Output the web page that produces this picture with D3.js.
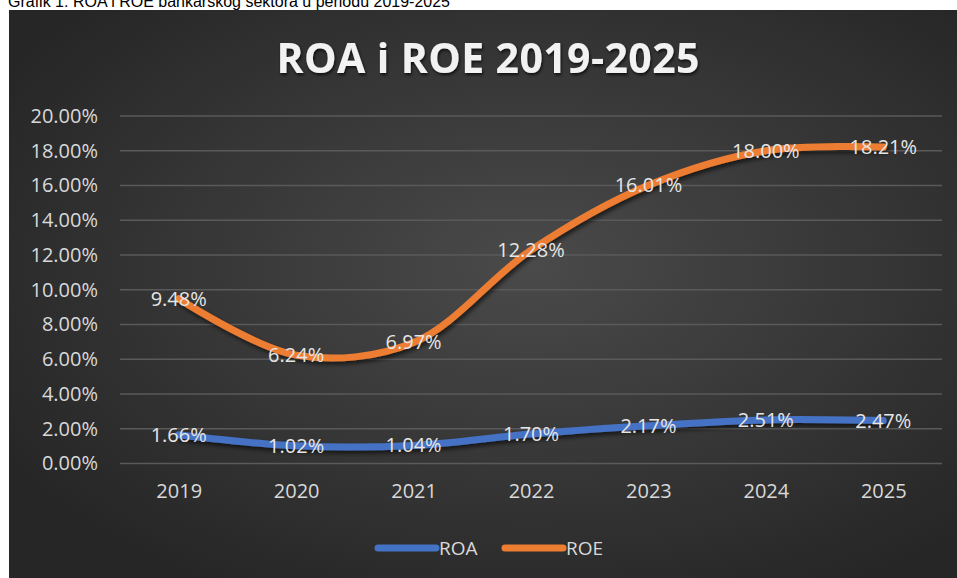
<!DOCTYPE html>
<html>
<head>
<meta charset="utf-8">
<script src="https://cdn.jsdelivr.net/npm/d3@7"></script>
<style>
  body { margin: 0; background: #fff; }
  svg { display: block; }
</style>
</head>
<body>
<div id="chart"></div>
<script>
// chart data
const years = ["2019", "2020", "2021", "2022", "2023", "2024", "2025"];
const roa = [1.66, 1.02, 1.04, 1.70, 2.17, 2.51, 2.47];
const roe = [9.48, 6.24, 6.97, 12.28, 16.01, 18.00, 18.21];
const yTicks = [0, 2, 4, 6, 8, 10, 12, 14, 16, 18, 20];
const seriesNames = ["ROA", "ROE"];
const seriesColors = ["#4472c4", "#ed7d31"];

const W = 957, H = 578;

let svg = d3.select("#chart")
  .append("svg")
  .attr("width", W)
  .attr("height", H);

let defs = svg.append("defs");

// radial background like the excel dark style
let grad = defs.append("radialGradient")
  .attr("id", "bg")
  .attr("cx", "55%").attr("cy", "45%").attr("r", "65%");
grad.append("stop").attr("offset", "0%").attr("stop-color", "#4a4a4a");
grad.append("stop").attr("offset", "100%").attr("stop-color", "#262626");

let shadow = defs.append("filter")
  .attr("id", "shadow")
  .attr("x", "-10%").attr("y", "-20%")
  .attr("width", "120%").attr("height", "160%");
shadow.append("feDropShadow")
  .attr("dx", 2).attr("dy", 3)
  .attr("stdDeviation", 2)
  .attr("flood-color", "#000")
  .attr("flood-opacity", 0.6);

let titleShadow = defs.append("filter").attr("id", "tshadow");
titleShadow.append("feDropShadow")
  .attr("dx", 1).attr("dy", 2)
  .attr("stdDeviation", 1.5)
  .attr("flood-color", "#000")
  .attr("flood-opacity", 0.7);

// caption above the chart (mostly cut off at the top)
svg.append("text")
  .attr("x", 8)
  .attr("y", 7)
  .style("font-family", "Liberation Sans, Arial, sans-serif")
  .style("font-size", "16px")
  .attr("fill", "#000")
  .text("Grafik 1. ROA i ROE bankarskog sektora u periodu 2019-2025");

// chart area
svg.append("rect")
  .attr("x", 9).attr("y", 10)
  .attr("width", W - 9).attr("height", H - 10)
  .attr("fill", "url(#bg)");

// title
let title = svg.append("text")
  .attr("x", 488)
  .attr("y", 73)
  .attr("text-anchor", "middle")
  .attr("fill", "#f2f2f2")
  .attr("filter", "url(#tshadow)")
  .style("font-family", "Open Sans, sans-serif")
  .style("font-weight", "bold")
  .style("font-size", "41px")
  .text("ROA i ROE 2019-2025");
// stretch the letter spacing to the reference width
let tl = title.node().getComputedTextLength();
let nChars = "ROA i ROE 2019-2025".length;
title.style("letter-spacing", ((423 - tl) / (nChars - 1)) + "px")
  .attr("x", 488 + (423 - tl) / (nChars - 1) / 2);

// scales
let xScale = d3.scalePoint()
  .domain(years)
  .range([120, 942])
  .padding(0.5);

let yScale = d3.scaleLinear()
  .domain([0, 20])
  .range([463.5, 116]);

const font = "Open Sans, sans-serif";
const textColor = "#d9d9d9";

// gridlines
svg.append("g")
  .attr("class", "grid")
  .selectAll("line")
  .data(yTicks)
  .enter()
  .append("line")
  .attr("x1", 120)
  .attr("x2", 942)
  .attr("y1", d => yScale(d))
  .attr("y2", d => yScale(d))
  .attr("stroke", "#5a5a5a")
  .attr("stroke-width", 1.4);

// y axis
let yAxis = svg.append("g")
  .attr("transform", "translate(98, 0)")
  .call(d3.axisLeft(yScale).tickValues(yTicks).tickSize(0).tickPadding(0)
    .tickFormat(d => d3.format(".2f")(d) + "%"));
yAxis.select(".domain").remove();
yAxis.selectAll("text")
  .attr("fill", textColor)
  .style("font-family", font)
  .style("font-size", "20px");

// x axis
let xAxis = svg.append("g")
  .attr("transform", "translate(0, 463.5)")
  .call(d3.axisBottom(xScale).tickSize(0).tickPadding(20));
xAxis.select(".domain").remove();
xAxis.selectAll("text")
  .attr("fill", textColor)
  .style("font-family", font)
  .style("font-size", "20px");

// lines
let series = [roa, roe];
let line = d3.line()
  .x((d, i) => xScale(years[i]))
  .y(d => yScale(d))
  .curve(d3.curveCatmullRom.alpha(0.5));

svg.append("g")
  .attr("class", "lines")
  .selectAll("path")
  .data(series)
  .enter()
  .append("path")
  .attr("d", d => line(d))
  .attr("fill", "none")
  .attr("stroke", (d, i) => seriesColors[i])
  .attr("stroke-width", 7)
  .attr("stroke-linecap", "round")
  .attr("stroke-linejoin", "round")
  .attr("filter", "url(#shadow)");

// data labels, centred on the points
series.forEach((vals, s) => {
  svg.append("g")
    .attr("class", "labels-" + seriesNames[s])
    .selectAll("text")
    .data(vals)
    .enter()
    .append("text")
    .attr("x", (d, i) => xScale(years[i]))
    .attr("y", d => yScale(d))
    .attr("dy", "0.35em")
    .attr("text-anchor", "middle")
    .attr("fill", "#e6e6e6")
    .style("font-family", font)
    .style("font-size", "20px")
    .text(d => d3.format(".2f")(d) + "%");
});

// legend
let legend = svg.append("g").attr("class", "legend");
let legendX = [378, 505];
seriesNames.forEach((name, i) => {
  legend.append("line")
    .attr("x1", legendX[i]).attr("x2", legendX[i] + 58)
    .attr("y1", 548).attr("y2", 548)
    .attr("stroke", seriesColors[i])
    .attr("stroke-width", 7)
    .attr("stroke-linecap", "round");
  legend.append("text")
    .attr("x", legendX[i] + 61)
    .attr("y", 548)
    .attr("dy", "0.35em")
    .attr("fill", textColor)
    .style("font-family", font)
    .style("font-size", "19px")
    .text(name);
});
</script>
</body>
</html>
